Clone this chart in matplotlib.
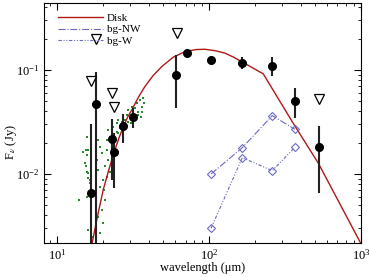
import matplotlib
matplotlib.use("Agg")
import matplotlib.pyplot as plt
from matplotlib.lines import Line2D
import numpy as np

plt.rcParams['font.family'] = ['Liberation Serif', 'DejaVu Serif']
plt.rcParams['mathtext.fontset'] = 'stix'

# Photometry (detections)
det_wl = [16.6, 18.0, 23.1, 23.8, 27.0, 31.5, 60.5, 71.3, 102.6, 165.6, 260.6, 367.0, 528.0]
det_f = [0.0066, 0.0468, 0.0216, 0.0164, 0.0290, 0.0353, 0.0895, 0.147, 0.124, 0.117, 0.110, 0.0507, 0.0181]
det_hi = [0.0301, 0.0963, 0.0338, 0.0245, 0.0378, 0.0428, 0.139, 0.147, 0.124, 0.132, 0.132, 0.0667, 0.029]
det_lo = [0.001, 0.001, 0.00876, 0.00729, 0.0200, 0.0275, 0.0428, 0.147, 0.124, 0.1015, 0.0875, 0.0344, 0.00652]

# Upper limits
ul_wl = [18.0, 16.6, 22.9, 23.7, 61.2, 526.0]
ul_f = [0.199, 0.0784, 0.0597, 0.0438, 0.229, 0.0526]

# Background
bg_wl = [103.0, 165.6, 260.6, 367.0]
bg_nw = [0.0100, 0.0179, 0.0364, 0.0269]
bg_w = [0.0030, 0.01435, 0.01076, 0.0180]

# Disk model
disk_wl = [16.1, 16.9, 18.4, 20.1, 22.0, 24.0, 25.6, 27.3, 29.1, 31.0, 34.2, 37.8, 42.8, 48.8, 58.0,
           69.5, 82.0, 94.0, 110.0, 127.4, 145.0, 164.0, 190.0, 227.5, 358.0, 524.0, 984.0, 1000.0]
disk_f = [0.00149, 0.00207, 0.00385, 0.00702, 0.01125, 0.0170, 0.0224, 0.0285, 0.0351, 0.0412, 0.0543, 0.0691, 0.0881, 0.1076, 0.1324,
          0.150, 0.157, 0.158, 0.153, 0.145, 0.1327, 0.120, 0.1064, 0.0916, 0.0307, 0.01268, 0.00223, 0.00213]

# Spectrum (green dots)
spec_wl = [15.7, 15.9, 15.5, 16.05, 16.5, 15.7, 16.7, 16.05, 16.9, 13.9, 14.9, 15.5, 15.7, 15.3, 15.7,
           16.05, 16.5, 18.7, 19.2, 18.2, 19.7, 18.7, 20.1, 19.2, 20.7, 19.7, 18.7, 20.1, 19.2,
           21.2, 21.7, 22.3, 22.9, 21.2, 23.4, 21.7, 20.7, 22.3, 21.2, 20.45,
           24.7, 25.3, 25.9, 26.6, 24.7, 27.3, 28.0, 25.3, 28.7, 29.4, 30.2, 31.0, 31.7, 29.2,
           32.6, 30.6, 33.4, 34.2, 35.1, 36.0, 36.9, 33.9, 35.7, 37.5, 36.4]
spec_f = [0.0229, 0.0170, 0.0118, 0.0102, 0.00876, 0.00605, 0.00451, 0.00290, 0.00250, 0.00562, 0.0164, 0.0170, 0.0152, 0.0128, 0.0105,
          0.00916, 0.00819, 0.0212, 0.0183, 0.0136, 0.0158, 0.0109, 0.00876, 0.00755, 0.00562, 0.00451, 0.00388, 0.00335, 0.00269,
          0.0212, 0.0265, 0.0229, 0.0183, 0.0170, 0.0285, 0.0136, 0.0118, 0.0105, 0.00942, 0.00701,
          0.0307, 0.0331, 0.0275, 0.0319, 0.0255, 0.0265, 0.0331, 0.0246, 0.0369, 0.0412, 0.0343, 0.0444, 0.0383, 0.0319,
          0.0428, 0.0307, 0.0478, 0.0397, 0.0515, 0.0444, 0.0534, 0.0369, 0.0356, 0.0478, 0.0397]

red = '#b01818'
blue = '#6a6ac0'
dashdotdot = (0, (3, 1.5, 1, 1.5, 1, 1.5))

fig = plt.figure(figsize=(3.69, 2.77), dpi=100)
ax = fig.add_axes([44/369, 34/277, 317/369, 240/277])

ax.plot(spec_wl, spec_f, 's', color='#2a8a2a', markersize=1.5, markeredgewidth=0, zorder=2)
ax.plot(disk_wl, disk_f, '-', color=red, lw=1.0, zorder=3)
ax.plot(bg_wl, bg_nw, '-.', color=blue, lw=0.8, marker='D', markersize=4,
        markerfacecolor='none', markeredgecolor=blue, markeredgewidth=0.8, zorder=3)
ax.plot(bg_wl, bg_w, linestyle=dashdotdot, color=blue, lw=0.8, marker='D', markersize=4,
        markerfacecolor='none', markeredgecolor=blue, markeredgewidth=0.8, zorder=3)

det_f_a = np.array(det_f)
yerr = [det_f_a - np.array(det_lo), np.array(det_hi) - det_f_a]
ax.errorbar(det_wl, det_f, yerr=yerr, fmt='o', color='black', markersize=5.5, elinewidth=1.5,
            ecolor='#222222', capsize=0, zorder=4)
ax.plot(ul_wl, ul_f, 'v', markersize=6.5, markerfacecolor='white', markeredgecolor='black',
        markeredgewidth=0.9, linestyle='none', zorder=4)

ax.set_xscale('log')
ax.set_yscale('log')
ax.set_xlim(8.2, 1000)
ax.set_ylim(0.00217, 0.44)

ax.tick_params(which='both', direction='in', top=True, right=True, labelsize=9)
ax.tick_params(which='major', length=5)
ax.tick_params(which='minor', length=2.5)
ax.set_xlabel('wavelength (μm)', fontsize=9, labelpad=0)
ax.set_ylabel(r'F$_\nu$ (Jy)', fontsize=9)
ax.yaxis.set_label_coords(-0.08, 0.42)

handles = [Line2D([], [], color=red, lw=1.0),
           Line2D([], [], color=blue, lw=0.8, linestyle='-.'),
           Line2D([], [], color=blue, lw=0.8, linestyle=dashdotdot)]
ax.legend(handles, ['Disk', 'bg-NW', 'bg-W'], loc='upper left', frameon=False, fontsize=8,
          handlelength=4.0, handletextpad=0.4, borderaxespad=0.3, labelspacing=0.15,
          bbox_to_anchor=(0.02, 0.99))

fig.savefig('out.png', dpi=100)
